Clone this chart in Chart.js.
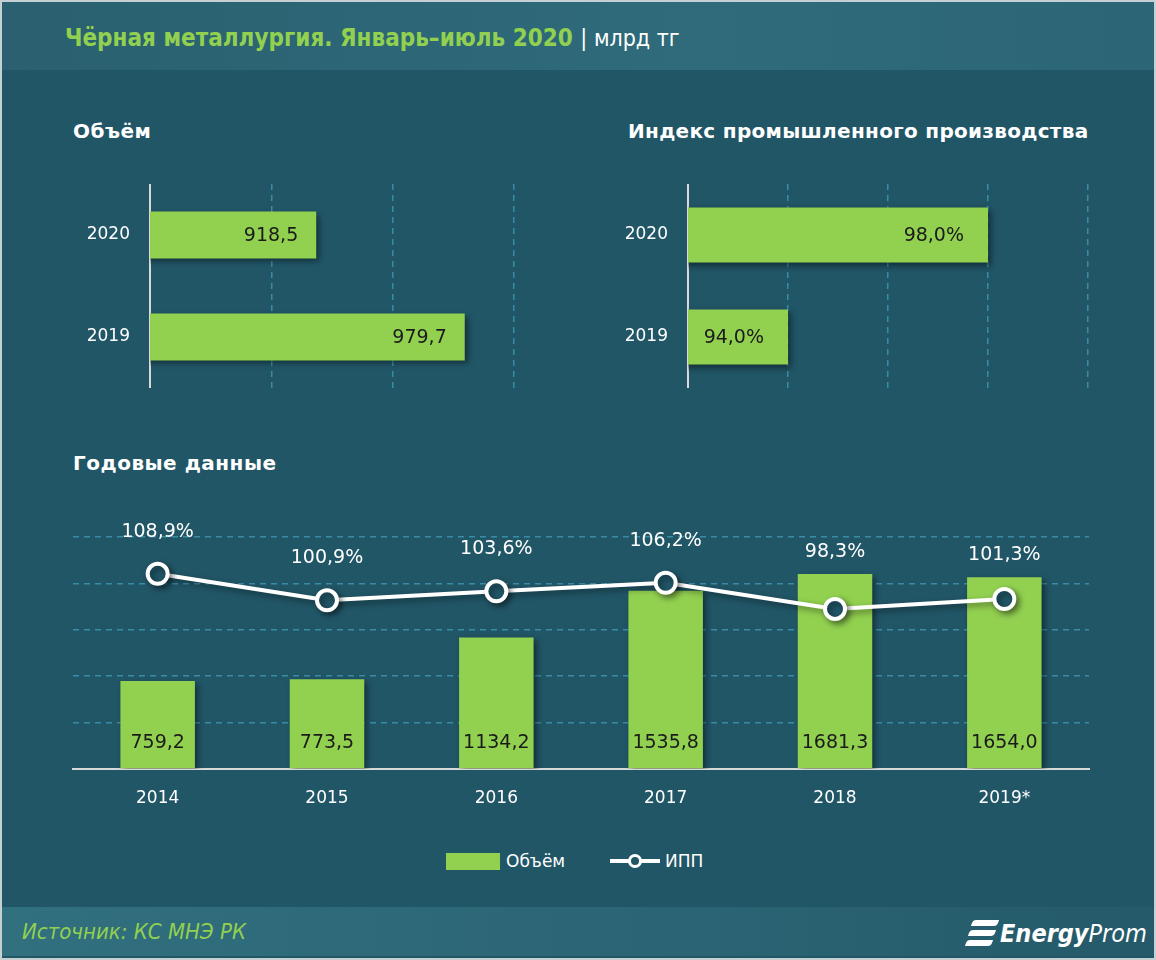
<!DOCTYPE html>
<html>
<head>
<meta charset="utf-8">
<title>Чёрная металлургия. Январь–июль 2020</title>
<script src="https://cdn.jsdelivr.net/npm/chart.js@4.4.1/dist/chart.umd.min.js"></script>
<style>
  html, body { margin: 0; padding: 0; }
  body {
    width: 1156px; height: 960px; position: relative; overflow: hidden;
    background: #215667; font-family: "DejaVu Sans", sans-serif; color: #fff;
  }
  .frame { position: absolute; left: 0; top: 0; width: 1152px; height: 956px; border: 2px solid #c5d0d3; }
  .head {
    position: absolute; left: 2px; top: 2px; width: 1152px; height: 68px;
    background: linear-gradient(to right, #2a6070, #2f6b7b 60%, #2c6676);
  }
  .foot {
    position: absolute; left: 2px; top: 907px; width: 1152px; height: 49px;
    background: linear-gradient(to right, #31707f, #2b6474 60%, #245a6a);
  }
  .title { position: absolute; left: 65px; top: 26px; font-family: "DejaVu Sans Condensed", sans-serif; font-weight: bold; font-size: 24px; line-height: 25px; color: #92d050; white-space: nowrap; }
  .title b { color: #fff; font-weight: normal; font-size: 23px; }
  .sub { position: absolute; font-weight: bold; font-size: 20px; line-height: 20px; white-space: nowrap; letter-spacing: 0.5px; }
  canvas { position: absolute; }
  .legend { position: absolute; top: 851px; left: 0; width: 1156px; height: 20px; font-size: 17px; line-height: 20px; }
  .legend span { position: absolute; }
  .lg-box { left: 446px; top: 2px; width: 54px; height: 17px; background: #92d050; }
  .lg-line { left: 610px; top: 8px; width: 50px; height: 4px; background: #fff; }
  .lg-dot { left: 628px; top: 3px; width: 8px; height: 8px; border: 3.5px solid #fff; border-radius: 50%; background: #215667; }
  .src { position: absolute; left: 22px; top: 920px; font-family: "DejaVu Sans Condensed", sans-serif; font-style: italic; font-size: 22px; line-height: 24px; color: #92d050; }
  .logo { position: absolute; left: 1000px; top: 920px; font-family: "DejaVu Sans Condensed", sans-serif; font-style: italic; font-size: 25px; line-height: 28px; color: #fff; }
  .logo b { font-weight: bold; }
  .ico { position: absolute; left: 972px; width: 26px; height: 6px; background: #fff; transform: skewX(-20deg); border-radius: 3px 0 3px 0; }
</style>
</head>
<body>
<div class="head"></div>
<div class="foot"></div>
<div class="frame"></div>

<div class="title">Чёрная металлургия. Январь–июль 2020 <b>| млрд тг</b></div>
<div class="sub" style="left:73px; top:121px;">Объём</div>
<div class="sub" style="left:628px; top:121px; letter-spacing:0.3px;">Индекс промышленного производства</div>
<div class="sub" style="left:73px; top:453px;">Годовые данные</div>

<canvas id="volChart" width="480" height="204" style="left:60px; top:184px;"></canvas>
<canvas id="ippChart" width="520" height="204" style="left:598px; top:184px;"></canvas>
<canvas id="yearChart" width="1156" height="300" style="left:0px; top:520px;"></canvas>

<div class="legend">
  <span class="lg-box"></span><span style="left:506px; top:0;">Объём</span>
  <span class="lg-line"></span><span class="lg-dot"></span><span style="left:665px; top:0;">ИПП</span>
</div>

<div class="src">Источник: КС МНЭ РК</div>
<div class="ico" style="top:920px;"></div>
<div class="ico" style="top:930px; left:969px;"></div>
<div class="ico" style="top:940px; left:966px;"></div>
<div class="logo"><b>Energy</b>Prom</div>

<script>
// данные
const volCats = ['2020', '2019'];
const volValues = [918.5, 979.7];

const ippCats = ['2020', '2019'];
const ippValues = [98.0, 94.0];

const years = ['2014', '2015', '2016', '2017', '2018', '2019*'];
const yearVolume = [759.2, 773.5, 1134.2, 1535.8, 1681.3, 1654.0];
const yearIpp = [108.9, 100.9, 103.6, 106.2, 98.3, 101.3];

const GREEN = '#92d050';
const BG = '#215667';
const GRID = '#3a8ba6';
const FONT = '"DejaVu Sans", sans-serif';

function fmt(v) {
  return v.toFixed(1).replace('.', ',');
}

const shadowPlugin = {
  id: 'shadow',
  beforeDatasetDraw(chart) {
    const c = chart.ctx;
    c.save();
    c.shadowColor = 'rgba(0,0,0,0.45)';
    c.shadowBlur = 6;
    c.shadowOffsetX = 3;
    c.shadowOffsetY = 3;
  },
  afterDatasetDraw(chart) {
    chart.ctx.restore();
  }
};

function hLabels(suffix, offset) {
  return {
    id: 'hlabels',
    afterDatasetsDraw(chart) {
      const c = chart.ctx;
      const meta = chart.getDatasetMeta(0);
      c.save();
      c.font = '19px ' + FONT;
      c.fillStyle = '#1b1b1b';
      c.textAlign = 'right';
      c.textBaseline = 'middle';
      meta.data.forEach((el, i) => {
        c.fillText(fmt(chart.data.datasets[0].data[i]) + suffix, el.x - offset, el.y + 1);
      });
      c.restore();
    }
  };
}

function hbar(id, cats, vals, min, max, step, suffix, offset, thick, padRight) {
  return new Chart(document.getElementById(id), {
    type: 'bar',
    data: {
      labels: cats,
      datasets: [{ data: vals, backgroundColor: GREEN, borderWidth: 0, barPercentage: thick, categoryPercentage: 1 }]
    },
    options: {
      indexAxis: 'y',
      responsive: false,
      animation: false,
      layout: { padding: { left: 0, right: padRight, top: 0, bottom: 0 } },
      plugins: { legend: { display: false }, tooltip: { enabled: false } },
      scales: {
        x: {
          min: min, max: max,
          ticks: { display: false, stepSize: step },
          border: { display: false, dash: [6, 5] },
          grid: {
            color: c => (c.tick && c.tick.value === min) ? 'rgba(0,0,0,0)' : GRID,
            lineWidth: 1.5, drawTicks: false
          },
          afterFit: s => { s.height = 0; s.paddingLeft = 0; s.paddingRight = 0; }
        },
        y: {
          ticks: { color: '#fff', font: { family: FONT, size: 17 }, padding: 20 },
          grid: { display: false, drawTicks: false },
          border: { color: '#d9d9d9', width: 2 },
          afterFit: s => { s.width = 90; s.paddingTop = 0; s.paddingBottom = 0; }
        }
      }
    },
    plugins: [shadowPlugin, hLabels(suffix, offset)]
  });
}

hbar('volChart', volCats, volValues, 850, 1000, 50, '', 18, 0.46, 26);
hbar('ippChart', ippCats, ippValues, 92, 100, 2, '%', 24, 0.54, 30);

const yearLabels = {
  id: 'yearLabels',
  afterDatasetsDraw(chart) {
    const c = chart.ctx;
    const lineMeta = chart.getDatasetMeta(0);
    const barMeta = chart.getDatasetMeta(1);
    c.save();
    c.font = '19px ' + FONT;
    c.textAlign = 'center';
    c.textBaseline = 'middle';
    barMeta.data.forEach((el, i) => {
      c.fillStyle = '#1b1b1b';
      c.fillText(fmt(yearVolume[i]), el.x, chart.chartArea.bottom - 26);
    });
    lineMeta.data.forEach((pt, i) => {
      const barTop = barMeta.data[i].y;
      const y = Math.min(pt.y - 42, barTop - 22);
      c.fillStyle = '#fff';
      c.fillText(fmt(yearIpp[i]) + '%', pt.x, y);
    });
    c.restore();
  }
};

new Chart(document.getElementById('yearChart'), {
  data: {
    labels: years,
    datasets: [
      {
        type: 'line', label: 'ИПП', data: yearIpp, yAxisID: 'y1', order: 0,
        borderColor: '#fff', borderWidth: 4, tension: 0,
        pointRadius: 10, pointBorderWidth: 4,
        pointBackgroundColor: BG, pointBorderColor: '#fff'
      },
      {
        type: 'bar', label: 'Объём', data: yearVolume, yAxisID: 'y', order: 1,
        backgroundColor: GREEN, borderWidth: 0, barPercentage: 0.44, categoryPercentage: 1
      }
    ]
  },
  options: {
    responsive: false,
    animation: false,
    layout: { padding: { left: 73, right: 67, top: 17, bottom: 1 } },
    plugins: { legend: { display: false }, tooltip: { enabled: false } },
    scales: {
      x: {
        ticks: { color: '#fff', font: { family: FONT, size: 17 }, padding: 19 },
        grid: { display: false, drawTicks: false },
        border: { color: '#d9d9d9', width: 2 },
        afterFit: s => { s.height = 50; }
      },
      y: {
        min: 0, max: 2000,
        ticks: { display: false, stepSize: 400 },
        grid: {
          color: c => (c.tick && c.tick.value === 0) ? 'rgba(0,0,0,0)' : GRID,
          lineWidth: 1.5, drawTicks: false
        },
        border: { display: false, dash: [6, 5] },
        afterFit: s => { s.width = 0; }
      },
      y1: { display: false, min: 50, max: 120 }
    }
  },
  plugins: [shadowPlugin, yearLabels]
});
</script>
</body>
</html>
